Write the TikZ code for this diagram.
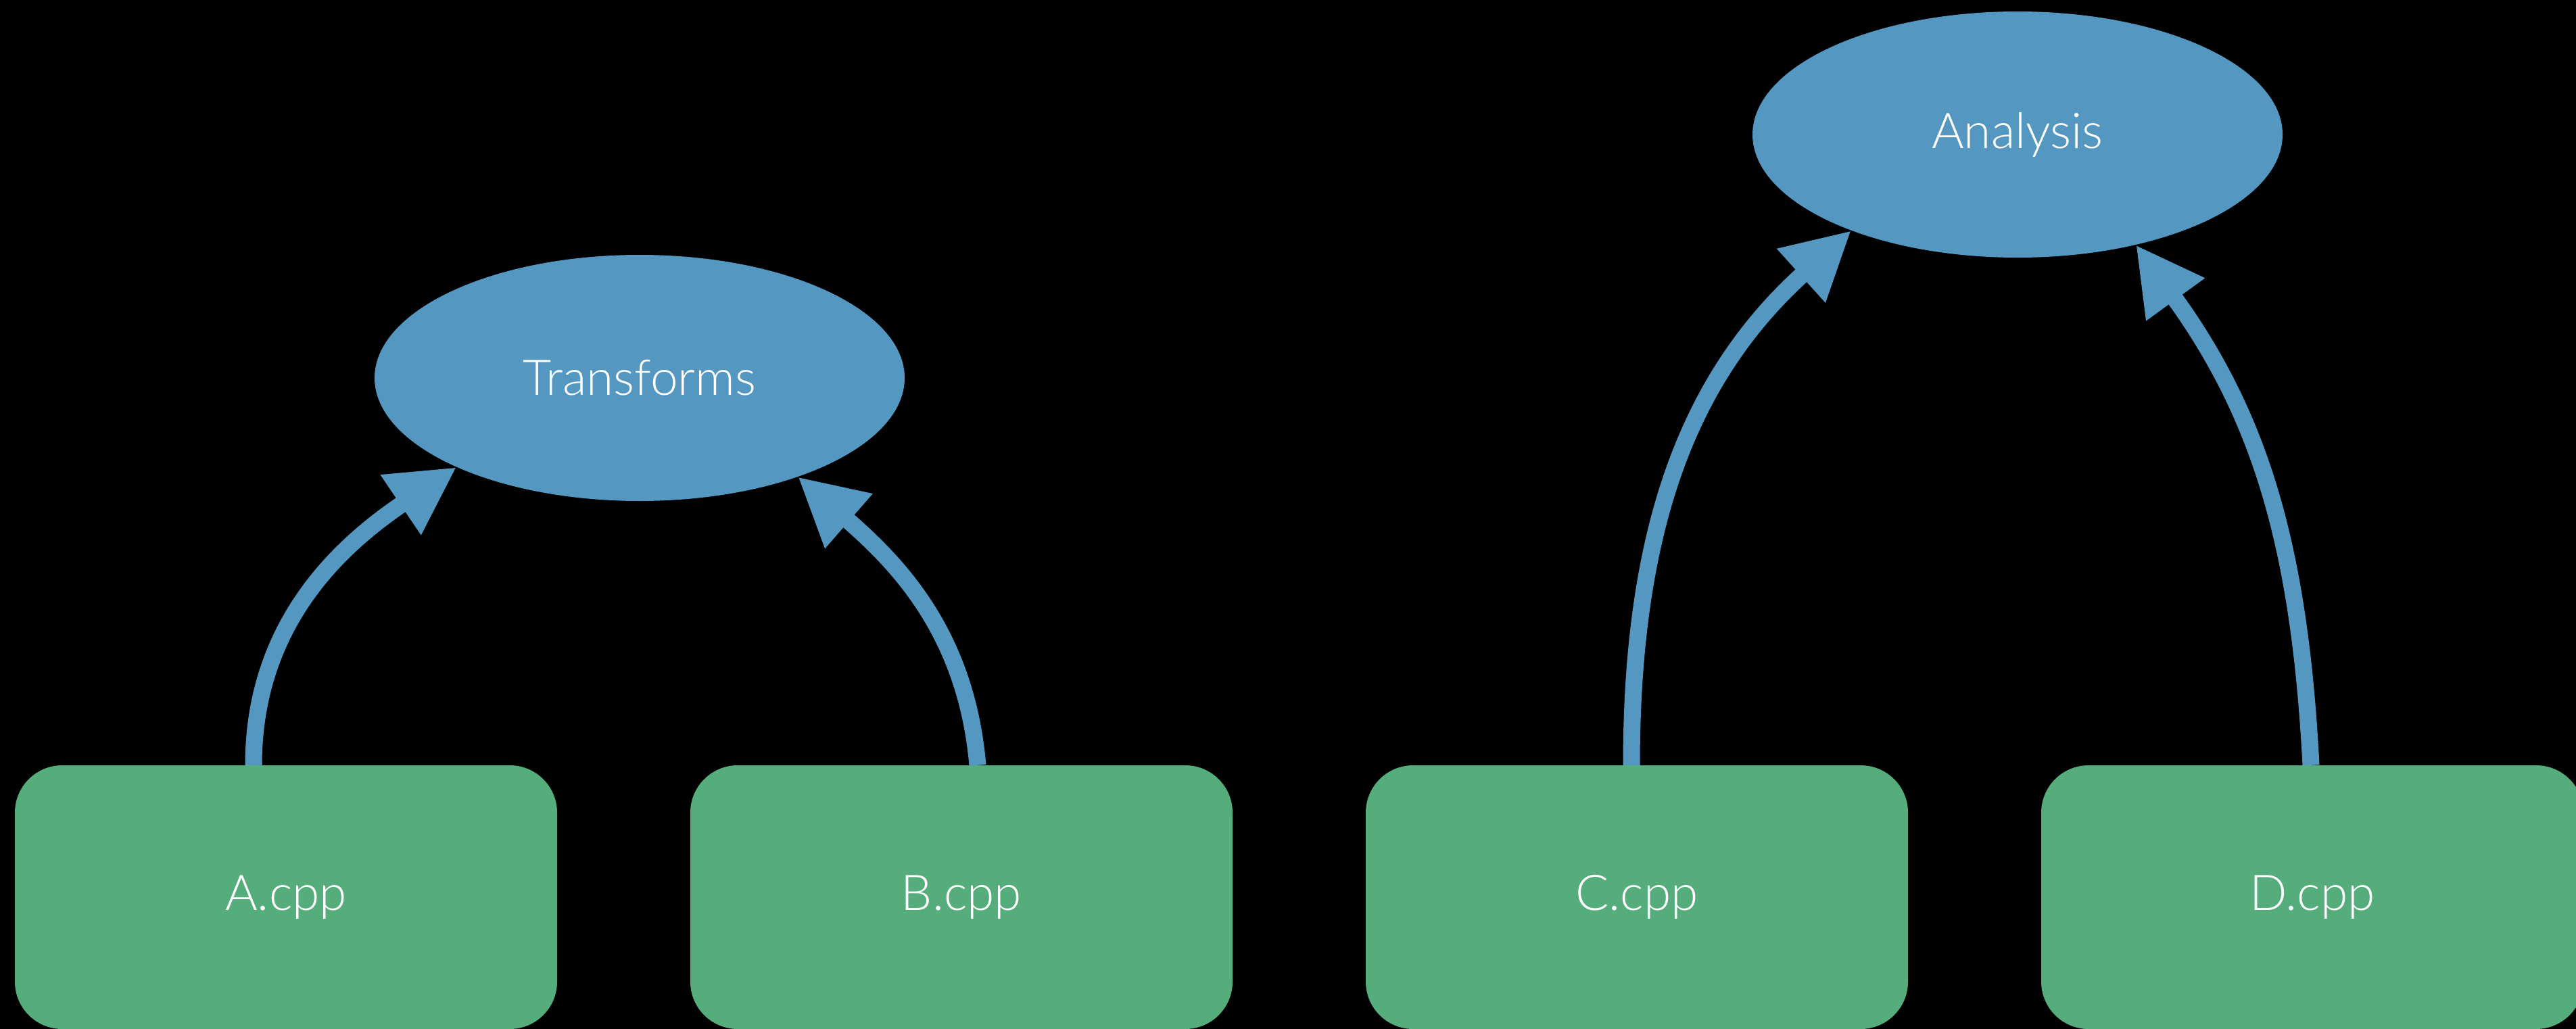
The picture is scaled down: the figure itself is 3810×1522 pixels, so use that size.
\documentclass[tikz,border=0pt]{standalone}
\usepackage{fontspec}
\setmainfont{Lato}[UprightFont={* Light}]
\usetikzlibrary{arrows.meta,shapes.geometric}
\definecolor{nodeblue}{RGB}{84,152,194}
\definecolor{boxgreen}{RGB}{85,173,124}
\tikzset{
  lbl/.style={text=white,font=\fontsize{73pt}{88pt}\selectfont},
  libnode/.style={lbl,ellipse,fill=nodeblue,inner sep=0pt,minimum width=784pt,minimum height=364pt},
  filebox/.style={lbl,rectangle,fill=boxgreen,rounded corners=70pt,inner sep=0pt,minimum width=802pt,minimum height=390pt},
  conn/.style={draw=nodeblue,line width=25pt,-{Triangle[length=100pt,width=100pt]}}
}
\begin{document}
\begin{tikzpicture}[x=1pt,y=1pt]
\path[use as bounding box,fill=black] (0,0) rectangle (3810,-1522);
\node[libnode] (T) at (946,-559) {Transforms};
\node[libnode] (An) at (2984,-199) {Analysis};
\node[filebox] (A) at (423,-1327) {A.cpp};
\node[filebox] (B) at (1422,-1327) {B.cpp};
\node[filebox] (C) at (2421,-1327) {C.cpp};
\node[filebox] (D) at (3420,-1327) {D.cpp};
\draw[conn] ([xshift=-48pt]A.north) to[out=90,in=214] (T.206);
\draw[conn] ([xshift=24pt]B.north) to[out=95,in=319] (T.328);
\draw[conn] ([xshift=-8pt]C.north) to[out=90,in=222] (An.210);
\draw[conn] ([xshift=-2pt]D.north) to[out=93,in=306] (An.317);
\end{tikzpicture}
\end{document}
